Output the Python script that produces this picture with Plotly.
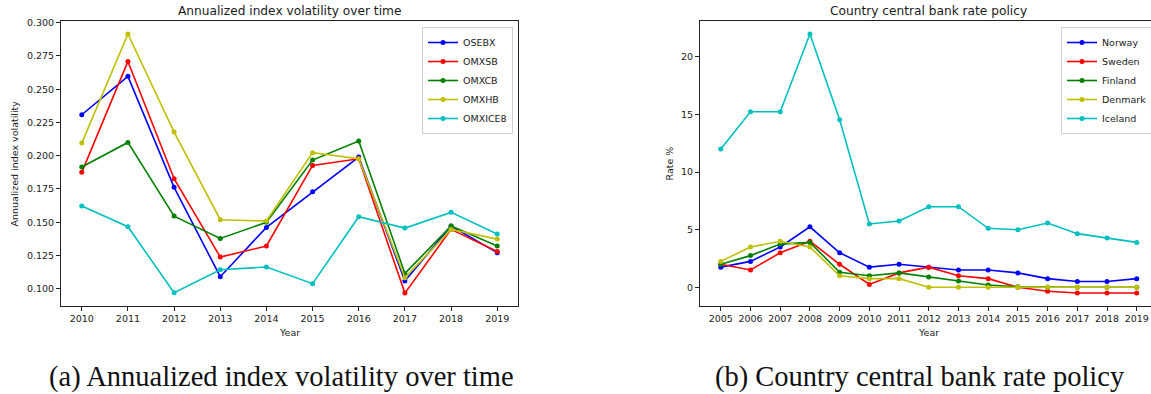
import plotly.graph_objects as go

# ---------------- data ----------------
years_a = [2010, 2011, 2012, 2013, 2014, 2015, 2016, 2017, 2018, 2019]
osebx = [0.2308, 0.2597, 0.1762, 0.1090, 0.1461, 0.1729, 0.1990, 0.1058, 0.1471, 0.1271]
omxsb = [0.1875, 0.2709, 0.1827, 0.1238, 0.1321, 0.1927, 0.1977, 0.0967, 0.1446, 0.1280]
omxcb = [0.1915, 0.2100, 0.1546, 0.1378, 0.1499, 0.1967, 0.2110, 0.1115, 0.1471, 0.1321]
omxhb = [0.2095, 0.2915, 0.2178, 0.1519, 0.1509, 0.2023, 0.1977, 0.1083, 0.1446, 0.1373]
omxice8 = [0.1622, 0.1466, 0.0970, 0.1143, 0.1163, 0.1038, 0.1541, 0.1456, 0.1574, 0.1411]
names_a = ["OSEBX", "OMXSB", "OMXCB", "OMXHB", "OMXICE8"]

years_b = list(range(2005, 2020))
norway = [1.75, 2.25, 3.5, 5.25, 3.0, 1.75, 2.0, 1.75, 1.5, 1.5, 1.25, 0.75, 0.5, 0.5, 0.75]
sweden = [2.0, 1.5, 3.0, 4.0, 2.0, 0.25, 1.25, 1.75, 1.0, 0.75, 0.0, -0.35, -0.5, -0.5, -0.5]
finland = [2.0, 2.75, 3.75, 3.9, 1.3, 1.0, 1.25, 0.9, 0.55, 0.2, 0.05, 0.0, 0.0, 0.0, 0.0]
denmark = [2.25, 3.5, 4.0, 3.5, 1.0, 0.75, 0.75, 0.0, 0.0, 0.0, 0.0, 0.0, 0.0, 0.0, 0.0]
iceland = [12.0, 15.25, 15.25, 22.0, 14.55, 5.5, 5.75, 7.0, 7.0, 5.12, 5.0, 5.58, 4.66, 4.28, 3.9]
names_b = ["Norway", "Sweden", "Finland", "Denmark", "Iceland"]

colors = ["#0000ff", "#ff0000", "#008000", "#bfbf00", "#00bfbf"]

title_a = "Annualized index volatility over time"
title_b = "Country central bank rate policy"
caption_a = "(a) Annualized index volatility over time"
caption_b = "(b) Country central bank rate policy"

# ---------------- layout geometry ----------------
W, H = 1151, 394
ax_a = (61, 518)
ax_b = (700, 1151)
top_px, bot_px = 21, 306

def px_x(p):
    return p / W

def px_y(p):
    return (H - p) / H

TXT = "#1a1a1a"
FONT = "DejaVu Sans"

fig = go.Figure()

for name, vals, c in zip(names_a, [osebx, omxsb, omxcb, omxhb, omxice8], colors):
    fig.add_trace(go.Scatter(x=years_a, y=vals, name=name, mode="lines+markers",
                             line=dict(color=c, width=1.6),
                             marker=dict(color=c, size=5),
                             xaxis="x", yaxis="y", legend="legend"))

for name, vals, c in zip(names_b, [norway, sweden, finland, denmark, iceland], colors):
    fig.add_trace(go.Scatter(x=years_b, y=vals, name=name, mode="lines+markers",
                             line=dict(color=c, width=1.6),
                             marker=dict(color=c, size=5),
                             xaxis="x2", yaxis="y2", legend="legend2"))

axis_common = dict(showgrid=False, zeroline=False, showline=True, linecolor="#222",
                   linewidth=1, ticks="outside", ticklen=4, tickwidth=1, tickcolor="#222",
                   tickfont=dict(family=FONT, size=9.5, color=TXT))

ydom = [px_y(bot_px), px_y(top_px)]

fig.update_layout(
    width=W, height=H,
    margin=dict(l=0, r=0, t=0, b=0, autoexpand=False),
    paper_bgcolor="white", plot_bgcolor="white",
    font=dict(family=FONT, color=TXT),
    xaxis=dict(domain=[px_x(ax_a[0]), px_x(ax_a[1])], range=[2009.55, 2019.45],
               tickmode="linear", tick0=2010, dtick=1, mirror=True, anchor="y", **axis_common),
    yaxis=dict(domain=ydom, range=[0.0870, 0.3013], tickmode="linear", tick0=0.1,
               dtick=0.025, tickformat=".3f", mirror=True, anchor="x", **axis_common),
    xaxis2=dict(domain=[px_x(ax_b[0]), 1.0], range=[2004.30, 2019.48],
                tickmode="linear", tick0=2005, dtick=1, mirror=True, anchor="y2", **axis_common),
    yaxis2=dict(domain=ydom, range=[-1.625, 23.125], tickmode="linear", tick0=0,
                dtick=5, mirror=False, anchor="x2", **axis_common),
    legend=dict(x=px_x(513), xanchor="right", y=px_y(27), yanchor="top",
                bgcolor="rgba(255,255,255,0.85)", bordercolor="#d0d0d0", borderwidth=1,
                font=dict(family=FONT, size=9.5, color=TXT), itemwidth=30,
                tracegroupgap=0),
    legend2=dict(x=px_x(1061), xanchor="left", y=px_y(27), yanchor="top",
                 bgcolor="rgba(255,255,255,0.85)", bordercolor="#d0d0d0", borderwidth=1,
                 font=dict(family=FONT, size=9.5, color=TXT), itemwidth=30,
                 tracegroupgap=0),
    showlegend=True,
)

ann = []
# chart titles
ann.append(dict(text=title_a, x=px_x((ax_a[0] + ax_a[1]) / 2), y=px_y(11), font=dict(size=12.2)))
ann.append(dict(text=title_b, x=px_x(928.5), y=px_y(11), font=dict(size=12.2)))
# axis titles
ann.append(dict(text="Year", x=px_x((ax_a[0] + ax_a[1]) / 2), y=px_y(332), font=dict(size=9.5)))
ann.append(dict(text="Year", x=px_x(928.5), y=px_y(332), font=dict(size=9.5)))
ann.append(dict(text="Annualized index volatility", x=px_x(14), y=px_y((top_px + bot_px) / 2),
                textangle=-90, font=dict(size=9.5)))
ann.append(dict(text="Rate %", x=px_x(669), y=px_y((top_px + bot_px) / 2),
                textangle=-90, font=dict(size=9.5)))
# captions
ann.append(dict(text=caption_a, x=px_x(281.7), y=px_y(377),
                font=dict(family="Liberation Serif", size=28.5, color="#111")))
ann.append(dict(text=caption_b, x=px_x(920), y=px_y(377),
                font=dict(family="Liberation Serif", size=28.5, color="#111")))

for a in ann:
    a.update(xref="paper", yref="paper", showarrow=False, xanchor="center", yanchor="middle")
    f = a.get("font", {})
    f.setdefault("family", FONT)
    f.setdefault("color", TXT)
    a["font"] = f

fig.update_layout(annotations=ann)

fig.write_html("out.html")
